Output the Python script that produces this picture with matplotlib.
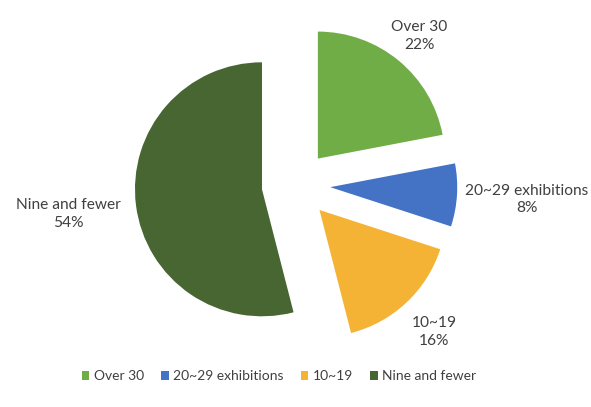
import numpy as np
import matplotlib.pyplot as plt

labels = ["Over 30", "20~29 exhibitions", "10~19", "Nine and fewer"]
shares = [22, 8, 16, 54]
colors = ["#70AD47", "#4472C4", "#F4B335", "#476632"]
label_dist = [1.25, 1.55, 1.32, 1.54]

plt.rcParams['font.family'] = ['Lato', 'DejaVu Sans']

fig = plt.figure(figsize=(5.91, 4.07), dpi=100)
ax = fig.add_axes([0.2, 0.1086, 0.6017, 0.8737])

wedges, _ = ax.pie(shares, colors=colors, startangle=90, counterclock=False,
                   explode=[0.27] * 4, radius=1.0)
ax.set_xlim(-1.4, 1.4)
ax.set_ylim(-1.4, 1.4)
ax.set_aspect('equal')
ax.axis('off')

# data labels: category name + percent, placed along each wedge's middle angle
for w, lab, s, d in zip(wedges, labels, shares, label_dist):
    th = np.deg2rad((w.theta1 + w.theta2) / 2)
    ax.text(0.27 * np.cos(th) + d * np.cos(th), 0.27 * np.sin(th) + d * np.sin(th),
            f"{lab}\n{s}%", ha='center', va='center', fontsize=11.2,
            color='#404040', linespacing=1.35)

fig.legend(wedges, labels, loc='lower center', bbox_to_anchor=(0.472, 0.03),
           ncol=4, frameon=False, fontsize=10, handlelength=0.55, handleheight=0.55,
           handletextpad=0.3, columnspacing=1.25, labelcolor='#404040')

fig.savefig('out.png', dpi=100)
